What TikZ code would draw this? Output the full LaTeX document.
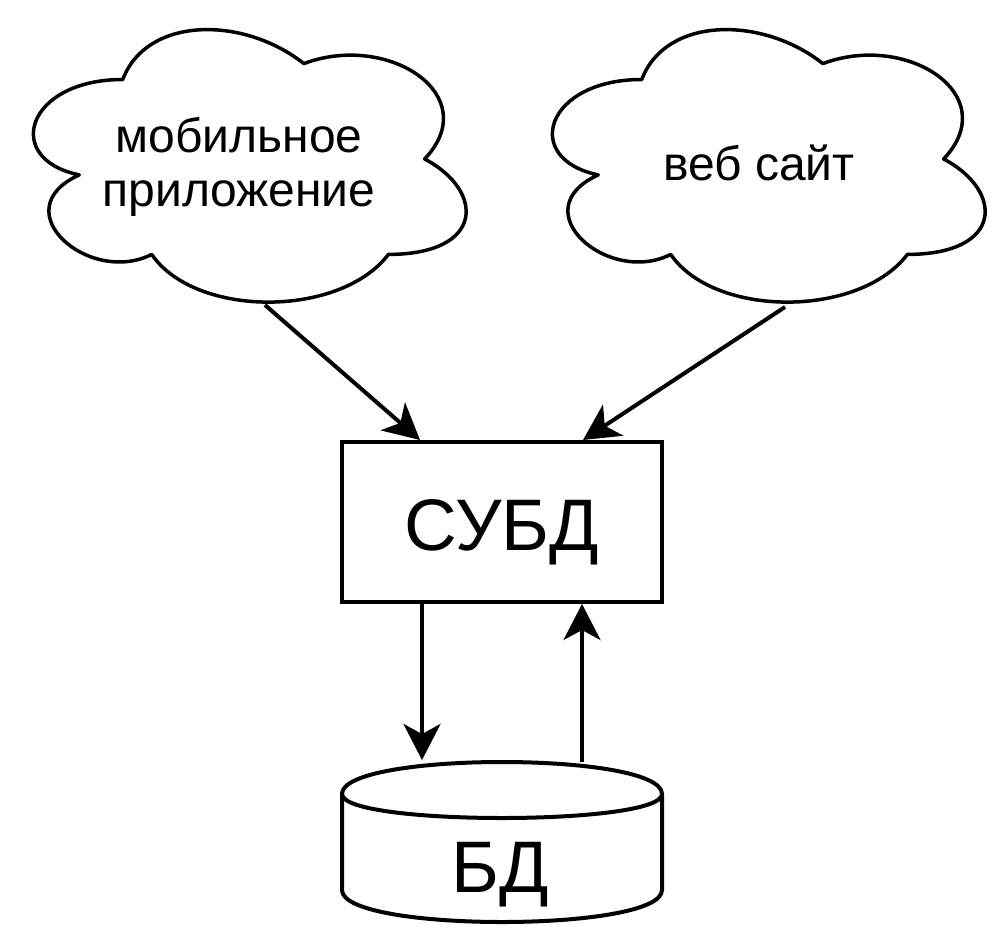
\documentclass[tikz,border=0pt]{standalone}
\usepackage{fontspec}
\setmainfont{Liberation Sans}
\usetikzlibrary{arrows.meta,positioning,calc}

% cloud outline, #1/#2 = left/top of its 483x318 box
\newcommand{\cloudpath}[2]{%
  \draw[cloudline,shift={(#1,#2)},x=483pt,y=-318pt]
    (0.25,0.25) .. controls (0.05,0.25) and (0,0.5) .. (0.16,0.55)
    .. controls (0,0.66) and (0.18,0.9) .. (0.31,0.8)
    .. controls (0.4,1) and (0.7,1) .. (0.8,0.8)
    .. controls (1,0.8) and (1,0.6) .. (0.875,0.5)
    .. controls (1,0.3) and (0.8,0.1) .. (0.625,0.2)
    .. controls (0.5,0.05) and (0.3,0.05) .. (0.25,0.25) -- cycle;}

\begin{document}
\begin{tikzpicture}[x=1pt,y=-1pt,
  cloudline/.style={line width=3.5pt,line join=round},
  shapeline/.style={line width=4pt},
  cloudtext/.style={font=\fontsize{48}{54}\selectfont,align=center,inner sep=0pt},
  box/.style={draw,shapeline,minimum width=320pt,minimum height=160pt,inner sep=0pt,
    font=\fontsize{73}{80}\selectfont,text height=56pt,text depth=0pt},
  arr/.style={line width=4pt,-{Stealth[length=36pt,width=37pt,inset=10pt]}}]
\useasboundingbox (0,0) rectangle (1004,924);

% clouds
\cloudpath{2}{0}
\cloudpath{521}{0}
\node[cloudtext] (mob) at (239,167) {мобильное\\приложение};
\node[cloudtext,anchor=base] (web) at (759,180) {веб сайт};
\coordinate (mobout) at (265,305);
\coordinate (webout) at (785,307);

% dbms
\node[box] (subd) at (502,522) {СУБД};

% database
\draw[shapeline] (342,794) .. controls (342,751.33) and (662,751.33) .. (662,794)
  -- (662,890) .. controls (662,932.67) and (342,932.67) .. (342,890) -- cycle;
\draw[shapeline] (342,794) .. controls (342,826) and (662,826) .. (662,794);
\coordinate (bdtop) at (502,762);
\node[font=\fontsize{73}{80}\selectfont,anchor=base] (bd) at (500,892) {БД};

\draw[arr] (mobout) -- ([xshift=80pt]subd.north west);
\draw[arr] (webout) -- ([xshift=-81pt]subd.north east);
\draw[arr] ([xshift=82pt]subd.south west) -- ([xshift=-80pt,yshift=2pt]bdtop);
\draw[arr] ([xshift=80pt]bdtop) -- ([xshift=-82pt]subd.south east);
\end{tikzpicture}
\end{document}
